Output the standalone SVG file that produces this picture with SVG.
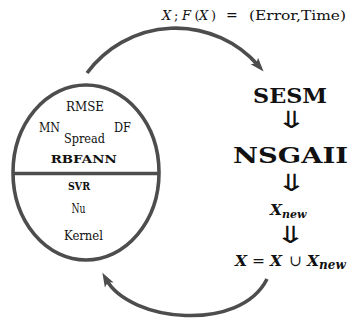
<svg xmlns="http://www.w3.org/2000/svg" width="361" height="322" viewBox="0 0 361 322">
<style>
.t{font-family:'DejaVu Serif','Liberation Serif',serif;fill:#111;}
.b{font-weight:bold;}
.i{font-style:italic;}
.arr{font-family:'DejaVu Sans','Noto Sans',sans-serif;fill:#111;}
.ln{fill:none;stroke:#4d4d4d;stroke-width:3.6;}
</style>
<defs>
<marker id="ah" viewBox="-3 -6 16 12" refX="4" refY="0" markerWidth="16" markerHeight="12" markerUnits="userSpaceOnUse" orient="auto">
<path d="M12,0 L-2,-5 L1,0 L-2,5 Z" fill="#4d4d4d"/>
</marker>
</defs>
<rect width="361" height="322" fill="#fff"/>
<g id="connectors">
<path class="ln" d="M87,73 A110,110 0 0 1 258.3,65.5" marker-end="url(#ah)"/>
<path class="ln" d="M267,279 C240,333 130,322 106.3,279.7" marker-end="url(#ah)"/>
<text class="t" font-size="13" y="20"><tspan class="i" x="162">X</tspan><tspan x="174">;</tspan><tspan class="i" x="182">F</tspan><tspan x="194.5">(</tspan><tspan class="i" x="199">X</tspan><tspan x="211">)</tspan><tspan x="226" font-size="14">=</tspan></text>
<text class="t" font-size="13" x="249" y="20" textLength="97" lengthAdjust="spacingAndGlyphs">(Error,Time)</text>
</g>
<g id="models">
<ellipse class="ln" cx="86" cy="172.5" rx="73" ry="87.5"/>
<line class="ln" x1="13" y1="173.5" x2="159" y2="173.5" stroke-width="4"/>
<g id="rbfann">
<text class="t" font-size="12.5" x="85" y="110.5" text-anchor="middle" textLength="38" lengthAdjust="spacingAndGlyphs">RMSE</text>
<text class="t" font-size="12.5" x="49.5" y="131.5" text-anchor="middle" textLength="21" lengthAdjust="spacingAndGlyphs">MN</text>
<text class="t" font-size="12.5" x="122.5" y="132" text-anchor="middle" textLength="17" lengthAdjust="spacingAndGlyphs">DF</text>
<text class="t" font-size="12.5" x="84.5" y="142.5" text-anchor="middle" textLength="41" lengthAdjust="spacingAndGlyphs">Spread</text>
<text class="t b" font-size="11.5" x="50.7" y="163.3" textLength="66" lengthAdjust="spacingAndGlyphs">RBFANN</text>
</g>
<g id="svr">
<text class="t b" font-size="11.5" x="68" y="190" textLength="22" lengthAdjust="spacingAndGlyphs">SVR</text>
<text class="t" font-size="12.5" x="78.5" y="212.7" text-anchor="middle" textLength="14" lengthAdjust="spacingAndGlyphs">Nu</text>
<text class="t" font-size="12.5" x="83.5" y="240" text-anchor="middle" textLength="39" lengthAdjust="spacingAndGlyphs">Kernel</text>
</g>
</g>
<g id="sesm">
<text class="t b" font-size="20.5" x="253" y="103.3" textLength="74" lengthAdjust="spacingAndGlyphs">SESM</text>
</g>
<text class="arr" font-size="25" transform="translate(291,127.5) scale(1.5,0.95)" text-anchor="middle">⇓</text>
<g id="nsgaii">
<text class="t b" font-size="21.5" x="233" y="162.7" textLength="115" lengthAdjust="spacingAndGlyphs">NSGAII</text>
</g>
<text class="arr" font-size="25" transform="translate(291,190.5) scale(1.5,0.95)" text-anchor="middle">⇓</text>
<g id="xnew">
<text class="t b i" font-size="15.5" x="270" y="215">X<tspan font-size="11" dy="3">new</tspan></text>
</g>
<text class="arr" font-size="25" transform="translate(290,243) scale(1.5,0.95)" text-anchor="middle">⇓</text>
<g id="update">
<text class="t" font-size="15.5" y="266"><tspan class="b i" x="235">X</tspan><tspan x="252">=</tspan><tspan class="b i" x="270">X</tspan><tspan x="289">∪</tspan><tspan class="b i" x="307">X</tspan><tspan class="b i" font-size="12" dy="3">new</tspan></text>
</g>
</svg>
